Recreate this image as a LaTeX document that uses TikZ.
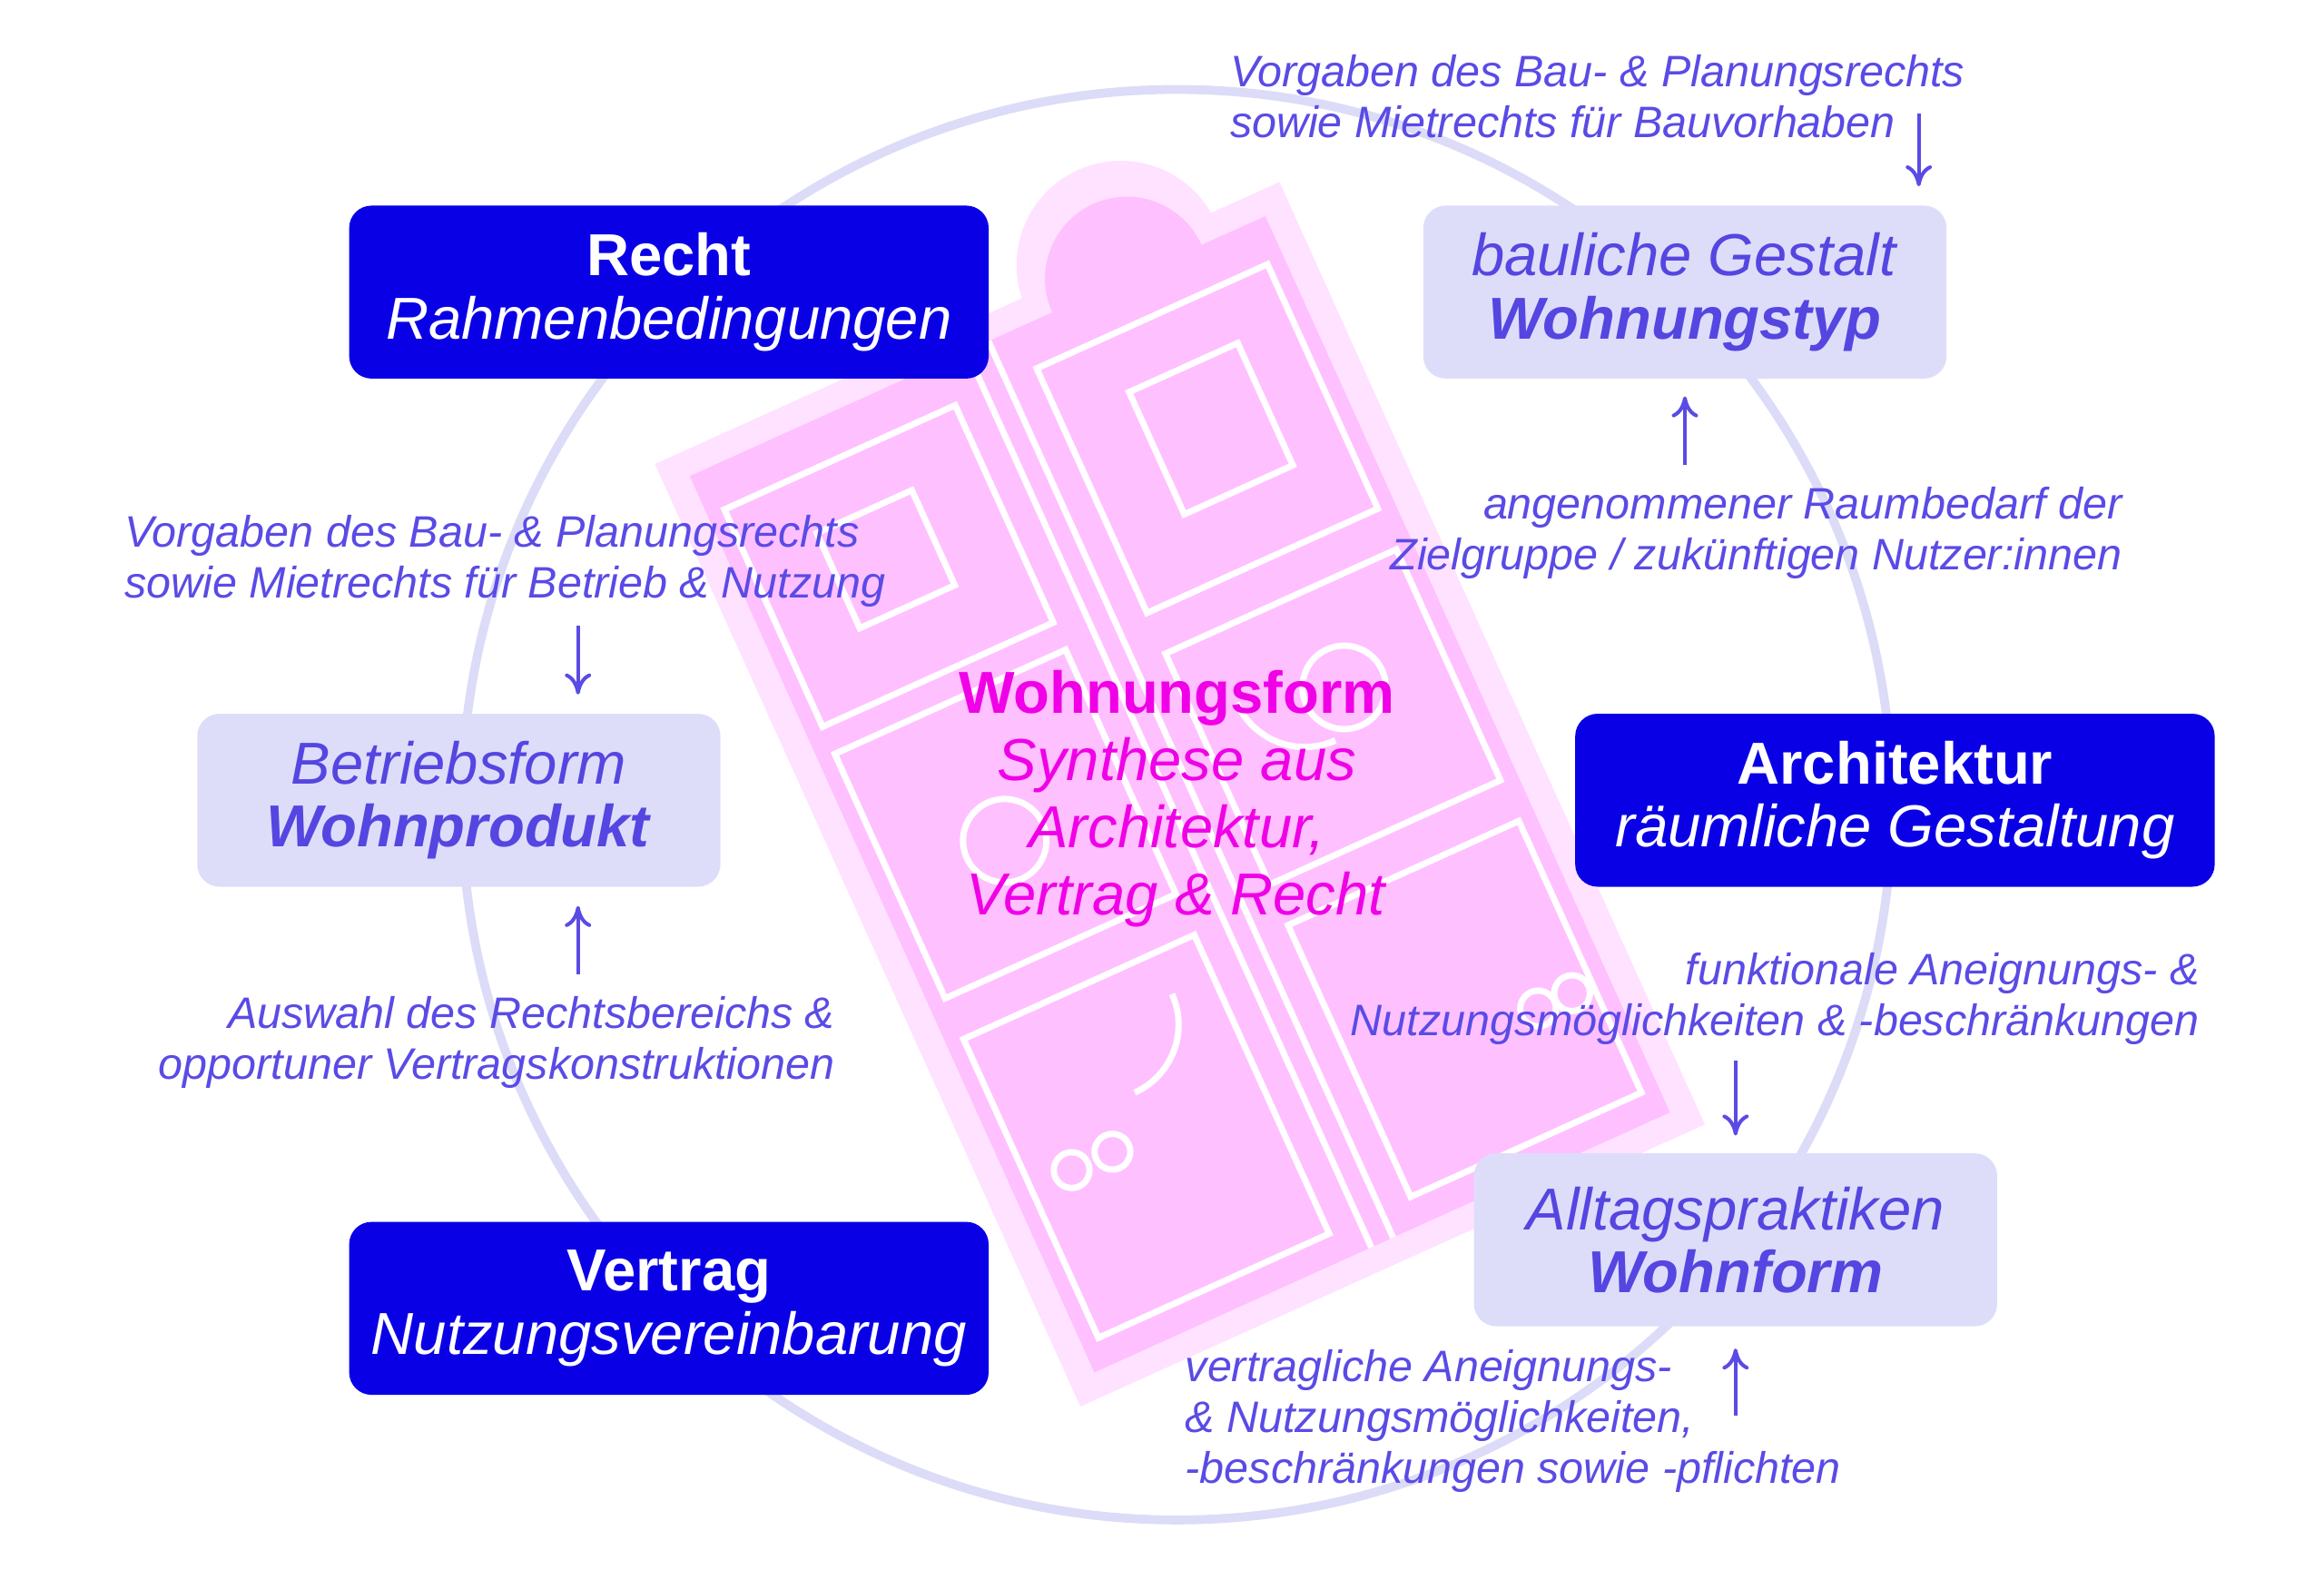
\documentclass[tikz,border=0pt]{standalone}
\usepackage{fontspec}
\setmainfont{Liberation Sans}
\usetikzlibrary{arrows.meta}
\definecolor{darkbox}{RGB}{10,0,230}
\definecolor{lightbox}{RGB}{221,221,250}
\definecolor{ringcol}{RGB}{220,220,248}
\definecolor{notecol}{RGB}{90,75,230}
\definecolor{lighttext}{RGB}{85,70,225}
\definecolor{formcol}{RGB}{240,0,230}
\definecolor{planpink}{RGB}{255,192,255}
\definecolor{planpale}{RGB}{255,226,255}

\begin{document}
\begin{tikzpicture}[x=0.01cm,y=-0.01cm,
    darknode/.style={fill=darkbox,text=white,rounded corners=0.15cm,minimum width=4.29cm,minimum height=1.16cm,align=center,font=\fontsize{11.3}{12}\selectfont,inner sep=0pt},
    lightnode/.style={fill=lightbox,text=lighttext,rounded corners=0.15cm,minimum width=3.51cm,minimum height=1.16cm,align=center,font=\fontsize{11.3}{12}\selectfont,inner sep=0pt},
    note/.style={text=notecol,font=\fontsize{8.4}{9.7}\selectfont\itshape,inner sep=0pt},
    flow/.style={notecol,line width=0.7pt,-{To[length=4pt,width=5pt]}},
    room/.style={white,line width=1.2pt}]
        \useasboundingbox (0,0) rectangle (1560,1053);
        % ring
        \draw [ringcol,line width=1.7pt] (790,540) circle (480);
        % floor plan
        \begin{scope}[shift={(792,533)},rotate=24.3]
        \fill [planpale] (-230,-347) rectangle (230,347);
        \fill [planpale] (110,-340) circle (70);
        \fill [planpink] (-212,-330) rectangle (212,330);
        \fill [planpink] (110,-330) circle (55);
        \draw [room] (-8,-330) -- (-8,330);
        \draw [room] (8,-330) -- (8,330);
        \draw [room] (-200,-300) rectangle (-30,-140);
        \draw [room] (-200,-120) rectangle (-30,60);
        \draw [room] (-200,90) rectangle (-30,310);
        \draw [room] (30,-300) rectangle (200,-120);
        \draw [room] (30,-90) rectangle (200,80);
        \draw [room] (30,110) rectangle (200,310);
        \draw [room] (-150,-260) rectangle (-80,-190);
        \draw [room] (80,-260) rectangle (160,-170);
        \draw [room] (-120,-20) circle (28);
        \draw [room] (130,-20) circle (28);
        \draw [room] (-170,200) circle (12) (-140,200) circle (12);
        \draw [room] (160,230) circle (12) (185,230) circle (12);
        \draw [room] (-60,120) arc (0:90:50);
        \draw [room] (60,-40) arc (180:90:50);
        \end{scope}
        % boxes
        \node [darknode] (recht) at (449,196) {\textbf{Recht}\\\textit{Rahmenbedingungen}};
        \node [darknode] (vertrag) at (449,878) {\textbf{Vertrag}\\\textit{Nutzungsvereinbarung}};
        \node [darknode] (arch) at (1272,537) {\textbf{Architektur}\\\textit{räumliche Gestaltung}};
        \node [lightnode] (gestalt) at (1131,196) {\textit{bauliche Gestalt}\\\textbf{\textit{Wohnungstyp}}};
        \node [lightnode] (betrieb) at (308,537) {\textit{Betriebsform}\\\textbf{\textit{Wohnprodukt}}};
        \node [lightnode] (alltag) at (1165,832) {\textit{Alltagspraktiken}\\\textbf{\textit{Wohnform}}};
        % centre
        \node [text=formcol,align=center,font=\fontsize{11.3}{12.8}\selectfont,inner sep=0pt] (form) at (790,536)
            {\textbf{Wohnungsform}\\\textit{Synthese aus}\\\textit{Architektur,}\\\textit{Vertrag \& Recht}};
        % notes
        \node [note,align=left,anchor=north west] (n1) at (825,36) {Vorgaben des Bau- \& Planungsrechts\\sowie Mietrechts für Bauvorhaben};
        \node [note,align=right,anchor=north east] (n2) at (1425,326) {angenommener Raumbedarf der\\Zielgruppe / zukünftigen Nutzer:innen};
        \node [note,align=left,anchor=north west] (n3) at (83,345) {Vorgaben des Bau- \& Planungsrechts\\sowie Mietrechts für Betrieb \& Nutzung};
        \node [note,align=right,anchor=north east] (n4) at (561,668) {Auswahl des Rechtsbereichs \&\\opportuner Vertragskonstruktionen};
        \node [note,align=right,anchor=north east] (n5) at (1477,639) {funktionale Aneignungs- \&\\Nutzungsmöglichkeiten \& -beschränkungen};
        \node [note,align=left,anchor=north west] (n6) at (795,905) {vertragliche Aneignungs-\\\& Nutzungsmöglichkeiten,\\-beschränkungen sowie -pflichten};
        % arrows
        \coordinate (a1) at (1288,76); \coordinate (b1) at (1288,125);
        \coordinate (a2) at (1131,312); \coordinate (b2) at (1131,266);
        \coordinate (a3) at (388,420); \coordinate (b3) at (388,466);
        \coordinate (a4) at (388,654); \coordinate (b4) at (388,608);
        \coordinate (a5) at (1165,712); \coordinate (b5) at (1165,762);
        \coordinate (a6) at (1165,950); \coordinate (b6) at (1165,905);
        \foreach \i in {1,...,6}
            \draw [flow] (a\i) -- (b\i);
\end{tikzpicture}
\end{document}
